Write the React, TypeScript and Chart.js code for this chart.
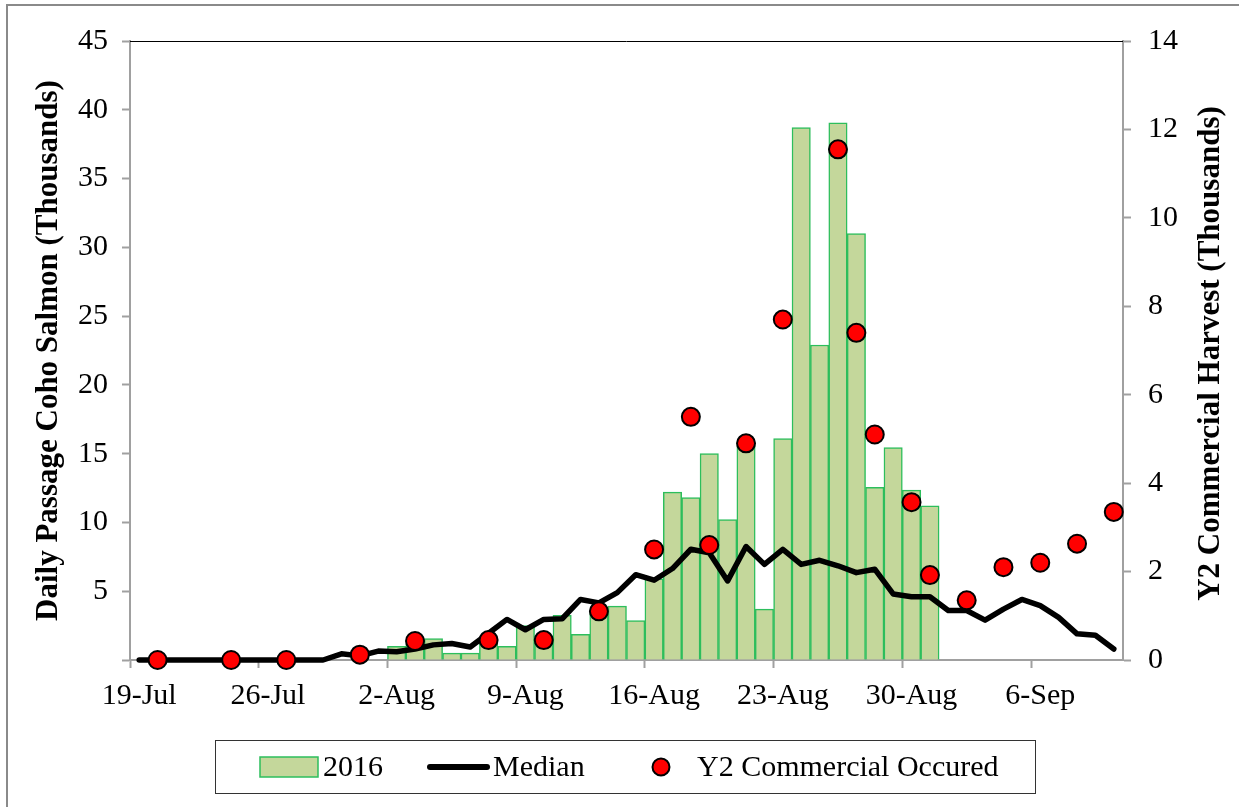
import React, { useEffect, useRef } from 'react';
import { Chart, registerables } from 'chart.js';

Chart.register(...registerables);

// ---------- data ----------
const dates = [
  '19-Jul', '20-Jul', '21-Jul', '22-Jul', '23-Jul', '24-Jul', '25-Jul',
  '26-Jul', '27-Jul', '28-Jul', '29-Jul', '30-Jul', '31-Jul', '1-Aug',
  '2-Aug', '3-Aug', '4-Aug', '5-Aug', '6-Aug', '7-Aug', '8-Aug',
  '9-Aug', '10-Aug', '11-Aug', '12-Aug', '13-Aug', '14-Aug', '15-Aug',
  '16-Aug', '17-Aug', '18-Aug', '19-Aug', '20-Aug', '21-Aug', '22-Aug',
  '23-Aug', '24-Aug', '25-Aug', '26-Aug', '27-Aug', '28-Aug', '29-Aug',
  '30-Aug', '31-Aug', '1-Sep', '2-Sep', '3-Sep', '4-Sep', '5-Sep',
  '6-Sep', '7-Sep', '8-Sep', '9-Sep', '10-Sep',
];

// Daily passage 2016 (thousands, left axis)
const passage2016 = [
  null, null, null, null, null, null, null,
  null, null, null, null, null, null, null,
  1.0, 1.2, 1.55, 0.5, 0.5, 1.2, 1.0,
  2.5, 1.5, 3.25, 1.87, 3.5, 3.92, 2.86,
  5.9, 12.2, 11.8, 15.0, 10.2, 15.6, 3.7,
  16.1, 38.7, 22.9, 39.05, 31.0, 12.55, 15.45,
  12.35, 11.2, null, null, null, null, null,
  null, null, null, null, null,
];

// Median daily passage (thousands, left axis)
const median = [
  0, 0, 0, 0, 0, 0, 0,
  0, 0, 0, 0, 0.45, 0.3, 0.65,
  0.6, 0.8, 1.1, 1.2, 0.95, 1.95, 2.95,
  2.2, 2.95, 3.0, 4.4, 4.15, 4.9, 6.2,
  5.8, 6.65, 8.05, 7.8, 5.75, 8.25, 6.95,
  8.05, 6.95, 7.25, 6.85, 6.35, 6.6, 4.8,
  4.6, 4.6, 3.6, 3.6, 2.9, 3.7, 4.4,
  3.95, 3.1, 1.9, 1.8, 0.8,
];

// Y2 commercial harvest (thousands, right axis)
const harvest = [
  null, 0, null, null, null, 0, null,
  null, 0, null, null, null, 0.12, null,
  null, 0.43, null, null, null, 0.45, null,
  null, 0.45, null, null, 1.1, null, null,
  2.5, null, 5.5, 2.6, null, 4.9, null,
  7.7, null, null, 11.55, 7.4, 5.1, null,
  3.57, 1.92, null, 1.35, null, 2.1, null,
  2.2, null, 2.63, null, 3.35,
];

const leftMax = 45;
const leftStep = 5;
const rightMax = 14;
const rightStep = 2;
const labelEvery = 7;

const seriesNames = ['2016', 'Median', 'Y2 Commercial Occured'];
const leftTitle = 'Daily Passage Coho Salmon (Thousands)';
const rightTitle = 'Y2 Commercial Harvest (Thousands)';

// ---------- styling ----------
const FONT = '"Liberation Serif", "Times New Roman", Times, serif';
const W = 1239;
const H = 807;
const BAR_FILL = '#c4d79b';
const BAR_EDGE = '#2dbe5c';
const AXIS_GRAY = '#a0a0a0';

const decor = {
  id: 'decor',
  beforeDraw(chart: any) {
    const { ctx } = chart;
    ctx.save();
    ctx.fillStyle = '#ffffff';
    ctx.fillRect(0, 0, chart.width, chart.height);
    ctx.restore();
  },
  afterDraw(chart: any) {
    const { ctx, chartArea: a } = chart;
    ctx.save();
    // outer frame
    ctx.strokeStyle = '#8a8a8a';
    ctx.lineWidth = 2;
    ctx.beginPath();
    ctx.moveTo(7, H);
    ctx.lineTo(7, 5);
    ctx.lineTo(W, 5);
    ctx.stroke();

    // top border of plot
    ctx.strokeStyle = '#000';
    ctx.lineWidth = 1;
    ctx.beginPath();
    ctx.moveTo(a.left, a.top + 0.5);
    ctx.lineTo(a.right, a.top + 0.5);
    ctx.stroke();

    // right axis title (reads bottom-to-top)
    ctx.save();
    ctx.font = `bold 31px ${FONT}`;
    ctx.fillStyle = '#000';
    ctx.textAlign = 'center';
    ctx.textBaseline = 'middle';
    ctx.translate(1211, (a.top + a.bottom) / 2 + 3);
    ctx.rotate(-Math.PI / 2);
    ctx.fillText(rightTitle, 0, 0);
    ctx.restore();

    // legend
    const ly = 767;
    ctx.strokeStyle = '#333';
    ctx.lineWidth = 1;
    ctx.strokeRect(215.5, 740.5, 820, 53);

    ctx.fillStyle = BAR_FILL;
    ctx.fillRect(260, 757, 58, 20);
    ctx.strokeStyle = BAR_EDGE;
    ctx.lineWidth = 1.5;
    ctx.strokeRect(260, 757, 58, 20);

    ctx.strokeStyle = '#000';
    ctx.lineWidth = 6;
    ctx.lineCap = 'round';
    ctx.beginPath();
    ctx.moveTo(430, ly);
    ctx.lineTo(487, ly);
    ctx.stroke();

    ctx.beginPath();
    ctx.arc(661, ly, 8.5, 0, Math.PI * 2);
    ctx.fillStyle = '#ff0000';
    ctx.fill();
    ctx.lineWidth = 2;
    ctx.strokeStyle = '#000';
    ctx.stroke();

    ctx.font = `30px ${FONT}`;
    ctx.fillStyle = '#000';
    ctx.textAlign = 'left';
    ctx.textBaseline = 'middle';
    ctx.fillText(seriesNames[0], 323, ly + 1);
    ctx.fillText(seriesNames[1], 493, ly + 1);
    ctx.fillText(seriesNames[2], 697, ly + 1);
    ctx.restore();
  },
};

export default function App() {
  const canvasRef = useRef<HTMLCanvasElement | null>(null);

  useEffect(() => {
    document.body.style.margin = '0';
    const canvas = canvasRef.current;
    if (!canvas) return;
    Chart.defaults.font.family = FONT;
    Chart.defaults.color = '#000';

    const chart = new Chart(canvas, {
      type: 'bar',
      data: {
        labels: dates,
        datasets: [
          {
            type: 'line',
            label: seriesNames[2],
            data: harvest,
            yAxisID: 'y1',
            showLine: false,
            pointRadius: 9,
            pointHoverRadius: 9,
            pointBackgroundColor: '#ff0000',
            pointBorderColor: '#000',
            pointBorderWidth: 2,
            clip: false,
            order: 0,
          } as any,
          {
            type: 'line',
            label: seriesNames[1],
            data: median,
            yAxisID: 'y',
            borderColor: '#000',
            borderWidth: 5.5,
            pointRadius: 0,
            tension: 0,
            borderJoinStyle: 'round',
            borderCapStyle: 'round',
            clip: false,
            order: 1,
          } as any,
          {
            type: 'bar',
            label: seriesNames[0],
            data: passage2016,
            yAxisID: 'y',
            backgroundColor: BAR_FILL,
            borderColor: BAR_EDGE,
            borderWidth: 1.5,
            barPercentage: 1,
            categoryPercentage: 1,
            order: 2,
          } as any,
        ],
      },
      options: {
        responsive: false,
        devicePixelRatio: 1,
        animation: false,
        events: [],
        layout: { padding: { left: 0, right: 0, top: 41, bottom: 0 } },
        plugins: {
          legend: { display: false },
          tooltip: { enabled: false },
        },
        scales: {
          x: {
            type: 'category',
            offset: true,
            afterFit: (s: any) => { s.height = H - 660; },
            grid: {
              offset: true,
              drawOnChartArea: false,
              drawTicks: true,
              tickLength: 8,
              tickWidth: 2,
              tickColor: (c: any) => (c.index % labelEvery === 0 ? AXIS_GRAY : 'rgba(0,0,0,0)'),
            },
            border: { display: true, color: AXIS_GRAY, width: 2 },
            ticks: {
              autoSkip: false,
              maxRotation: 0,
              minRotation: 0,
              padding: 10,
              font: { size: 30, family: FONT },
              color: '#000',
              callback: (_v: any, i: number) => (i % labelEvery === 0 ? dates[i] : ''),
            },
          },
          y: {
            type: 'linear',
            position: 'left',
            min: 0,
            max: leftMax,
            afterFit: (s: any) => { s.width = 130; },
            grid: {
              drawOnChartArea: false,
              drawTicks: true,
              tickLength: 8,
              tickWidth: 2,
              tickColor: AXIS_GRAY,
            },
            border: { display: true, color: AXIS_GRAY, width: 2 },
            ticks: {
              stepSize: leftStep,
              padding: 14,
              font: { size: 30, family: FONT },
              color: '#000',
              callback: (v: any) => (Number(v) === 0 ? '' : String(v)),
            },
            title: {
              display: true,
              text: leftTitle,
              color: '#000',
              font: { size: 31, weight: 'bold', family: FONT },
              padding: { top: 30, bottom: 0 },
            },
          },
          y1: {
            type: 'linear',
            position: 'right',
            min: 0,
            max: rightMax,
            afterFit: (s: any) => { s.width = W - 1123; },
            grid: {
              drawOnChartArea: false,
              drawTicks: true,
              tickLength: 8,
              tickWidth: 2,
              tickColor: AXIS_GRAY,
            },
            border: { display: true, color: AXIS_GRAY, width: 2 },
            ticks: {
              stepSize: rightStep,
              padding: 17,
              font: { size: 30, family: FONT },
              color: '#000',
            },
          },
        },
      } as any,
      plugins: [decor],
    });

    return () => chart.destroy();
  }, []);

  return (
    <div style={{ width: W, height: H, position: 'relative' }}>
      <canvas ref={canvasRef} width={W} height={H} style={{ display: 'block', width: W, height: H }} />
    </div>
  );
}
